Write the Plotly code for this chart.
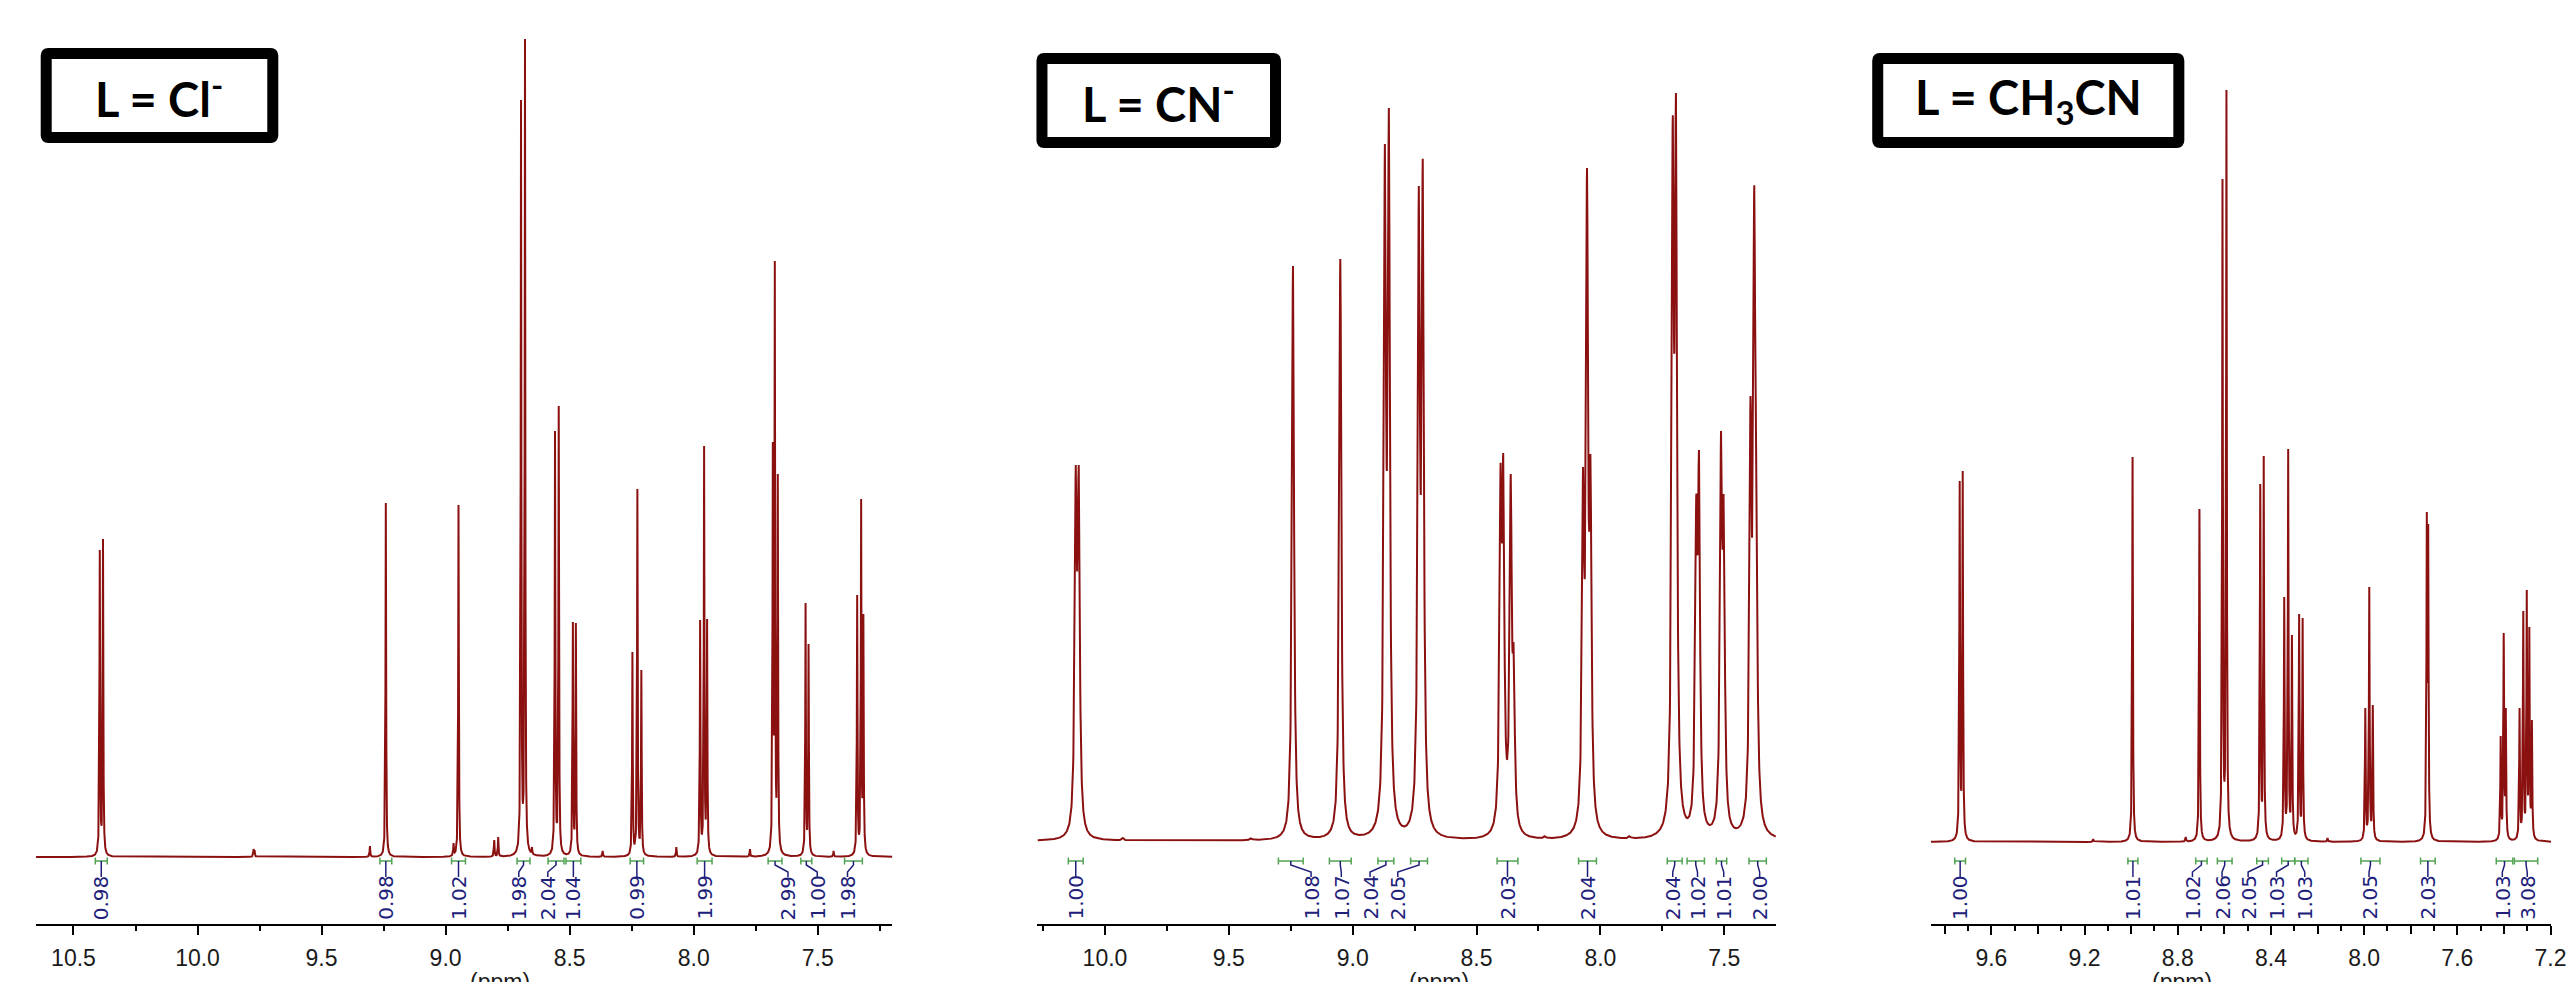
import numpy as np
import plotly.graph_objects as go

W, H = 2567, 982

# ---------------- data ----------------
# Panel 1 : L = Cl-   (peak position ppm, apex height in a.u.)
cl_ppm = [10.394, 10.381, 9.774, 9.770, 9.305, 9.241, 8.968, 8.948, 8.804, 8.788,
          8.696, 8.680, 8.652, 8.559, 8.544, 8.487, 8.475, 8.367, 8.247, 8.227,
          8.211, 8.070, 7.974, 7.958, 7.946, 7.773, 7.681, 7.673, 7.661, 7.549,
          7.537, 7.436, 7.341, 7.325, 7.316]
cl_height = [307, 318, 8, 7, 11, 354, 14, 352, 17, 20,
             757, 818, 10, 426, 451, 235, 234, 6, 205, 368,
             187, 10, 237, 411, 238, 8, 415, 596, 383, 254,
             213, 6, 262, 358, 243]
cl_int_lo = [10.412, 9.265, 8.976, 8.712, 8.587, 8.515, 8.256, 7.986, 7.700, 7.568, 7.392]
cl_int_hi = [10.364, 9.217, 8.920, 8.660, 8.523, 8.455, 8.202, 7.926, 7.644, 7.524, 7.320]
cl_int_label_at = [10.390, 9.243, 8.948, 8.705, 8.588, 8.487, 8.232, 7.958, 7.620, 7.502, 7.380]
cl_int_text = ["0.98", "0.98", "1.02", "1.98", "2.04", "1.04", "0.99", "1.99", "2.99", "1.00", "1.98"]
cl_ticks = [10.5, 10.0, 9.5, 9.0, 8.5, 8.0, 7.5]

# Panel 2 : L = CN-
cn_ppm = [10.118, 10.106, 9.928, 9.410, 9.241, 9.050, 8.870, 8.854, 8.733, 8.717,
          8.403, 8.392, 8.362, 8.350, 8.224, 8.070, 8.054, 8.040, 7.882, 7.708,
          7.695, 7.613, 7.602, 7.513, 7.502, 7.394, 7.379, 7.371]
cn_height = [376, 376, 3, 3, 575, 582, 697, 733, 655, 682,
             377, 387, 367, 196, 5, 374, 673, 385, 5, 725,
             748, 346, 391, 410, 346, 445, 655, 415]
cn_int_lo = [10.148, 9.300, 9.094, 8.898, 8.766, 8.417, 8.088, 7.730, 7.650, 7.532, 7.400]
cn_int_hi = [10.088, 9.200, 9.006, 8.834, 8.698, 8.333, 8.016, 7.670, 7.580, 7.490, 7.330]
cn_int_label_at = [10.121, 9.168, 9.046, 8.930, 8.818, 8.377, 8.052, 7.708, 7.608, 7.502, 7.357]
cn_int_text = ["1.00", "1.08", "1.07", "2.04", "2.05", "2.03", "2.04", "2.04", "1.02", "1.01", "2.00"]
cn_ticks = [10.0, 9.5, 9.0, 8.5, 8.0, 7.5]

# Panel 3 : L = CH3CN
mecn_ppm = [9.736, 9.723, 9.163, 8.994, 8.766, 8.707, 8.608, 8.591, 8.446, 8.431,
            8.343, 8.326, 8.310, 8.279, 8.264, 8.157, 7.995, 7.978, 7.963, 7.731,
            7.725, 7.414, 7.401, 7.392, 7.333, 7.317, 7.302, 7.291, 7.280]
mecn_height = [361, 371, 3, 385, 5, 333, 663, 752, 358, 386,
               245, 393, 207, 228, 224, 4, 134, 255, 137, 330,
               318, 106, 209, 134, 134, 231, 252, 215, 122]
mecn_int_lo = [9.757, 9.014, 8.723, 8.630, 8.461, 8.354, 8.298, 8.014, 7.758, 7.433, 7.355]
mecn_int_hi = [9.711, 8.971, 8.674, 8.567, 8.411, 8.298, 8.241, 7.932, 7.695, 7.362, 7.255]
mecn_int_label_at = [9.737, 8.993, 8.737, 8.610, 8.498, 8.376, 8.255, 7.979, 7.730, 7.407, 7.300]
mecn_int_text = ["1.00", "1.01", "1.02", "2.06", "2.05", "1.03", "1.03", "2.05", "2.03", "1.03", "3.08"]
mecn_ticks = [9.6, 9.2, 8.8, 8.4, 8.0, 7.6, 7.2]

# ---------------- styling / layout ----------------
LINE_COL = "#8b1010"
INT_COL = "#20207a"
BR_COL = "#52a352"
AX_Y = 924          # axis line pixel row
TICK_FONT = dict(family="Liberation Sans, Arial, sans-serif", size=23, color="#1a1a1a")

panels = [
    dict(ppm=cl_ppm, h=cl_height, lo=cl_int_lo, hi=cl_int_hi, lab=cl_int_label_at,
         txt=cl_int_text, ticks=cl_ticks, px=(36, 898), rng=(10.652, 7.199), base=857,
         hwhm=0.0015, step=0.0003, title="<b>L = Cl<sup>-</sup></b>", box=(41, 48, 280, 143),
         ppm_title_at=8.78, mid_ticks=False, minor=0.25),
    dict(ppm=cn_ppm, h=cn_height, lo=cn_int_lo, hi=cn_int_hi, lab=cn_int_label_at,
         txt=cn_int_text, ticks=cn_ticks, px=(1044, 1787), rng=(10.2725, 7.2916), base=841,
         hwhm=0.005, step=0.0008, title="<b>L = CN<sup>-</sup></b>", box=(1043, 53, 1289, 148),
         ppm_title_at=8.65, mid_ticks=False, minor=0.25),
    dict(ppm=mecn_ppm, h=mecn_height, lo=mecn_int_lo, hi=mecn_int_hi,
         lab=mecn_int_label_at, txt=mecn_int_text, ticks=mecn_ticks, px=(1943, 2567),
         rng=(9.8596, 7.198), base=842, hwhm=0.0018, step=0.0003,
         title="<b>L = CH<sub>3</sub>CN</b>", box=(1884, 53, 2198, 148),
         ppm_title_at=8.78, mid_ticks=True, minor=0.1),
]


def py(p):
    return 1 - p / H


def rounded_rect(x0, y0, x1, y1, r):
    """path in paper fractions for a rectangle given in pixels with rounded corners"""
    X = lambda v: v / W
    Y = lambda v: 1 - v / H
    return (f"M {X(x0 + r)},{Y(y0)} L {X(x1 - r)},{Y(y0)} Q {X(x1)},{Y(y0)} {X(x1)},{Y(y0 + r)} "
            f"L {X(x1)},{Y(y1 - r)} Q {X(x1)},{Y(y1)} {X(x1 - r)},{Y(y1)} "
            f"L {X(x0 + r)},{Y(y1)} Q {X(x0)},{Y(y1)} {X(x0)},{Y(y1 - r)} "
            f"L {X(x0)},{Y(y0 + r)} Q {X(x0)},{Y(y0)} {X(x0 + r)},{Y(y0)} Z")


fig = go.Figure()
shapes = []
annotations = []
ydom = [1 - AX_Y / H, 1]

for i, P in enumerate(panels):
    k = "" if i == 0 else str(i + 1)
    xref, yref = "x" + k, "y" + k
    pos = np.array(P["ppm"], float)
    top = np.array(P["h"], float)
    g = P["hwhm"]
    # amplitudes so that the Lorentzian sum reproduces the read apex heights
    A = 1.0 / (1.0 + ((pos[:, None] - pos[None, :]) / g) ** 2)
    amp = np.clip(np.linalg.solve(A, top), 0, None)
    grid = np.arange(P["rng"][1], P["rng"][0], P["step"])
    grid = np.union1d(grid, pos)
    spec = (amp[None, :] / (1.0 + ((grid[:, None] - pos[None, :]) / g) ** 2)).sum(axis=1)
    fig.add_trace(go.Scatter(x=grid, y=spec, mode="lines", xaxis=xref, yaxis=yref,
                             line=dict(color=LINE_COL, width=2), hoverinfo="skip",
                             showlegend=False))

    base = P["base"]
    xa = dict(domain=[P["px"][0] / W, P["px"][1] / W], range=list(P["rng"]), anchor=yref,
              showline=True, linecolor="black", linewidth=2, ticks="outside", ticklen=9,
              tickwidth=2, tickcolor="black", tickvals=P["ticks"],
              ticktext=["%.1f" % t for t in P["ticks"]],
              minor=dict(dtick=P["minor"], tick0=0, ticks="outside", ticklen=5, tickwidth=2,
                         tickcolor="black", showgrid=False),
              showgrid=False, zeroline=False, ticklabelstandoff=3,
              ticklabeloverflow="allow", tickfont=TICK_FONT)
    ya = dict(domain=ydom, range=[-(AX_Y - base), base], visible=False, showgrid=False,
              zeroline=False, fixedrange=True)
    if i > 0:
        ya["anchor"] = xref
    fig.update_layout(**{"xaxis" + k: xa, "yaxis" + k: ya})

    if P["mid_ticks"]:
        # longer unlabelled ticks halfway between the labelled ones
        mids = [(a + b) / 2 for a, b in zip(P["ticks"][:-1], P["ticks"][1:])]
        mids.append(P["ticks"][0] + (P["ticks"][0] - P["ticks"][1]) / 2)
        fig.update_layout(xaxis4=dict(overlaying=xref, anchor=yref, range=list(P["rng"]),
                                      domain=xa["domain"], tickvals=mids, ticks="outside",
                                      ticklen=9, tickwidth=2, tickcolor="black",
                                      showticklabels=False, showline=False, showgrid=False,
                                      zeroline=False))
        fig.add_trace(go.Scatter(x=[mids[0]], y=[0], mode="markers", xaxis="x4", yaxis=yref,
                                 marker=dict(size=1, opacity=0), hoverinfo="skip",
                                 showlegend=False))

    # integration brackets, connectors and values
    yb, yb0, yb1 = py(861), py(857.5), py(864.5)
    for lo, hi, lab, txt in zip(P["lo"], P["hi"], P["lab"], P["txt"]):
        c = (lo + hi) / 2
        shapes.append(dict(type="path", xref=xref, yref="paper",
                           path=f"M {lo},{yb0} L {lo},{yb1} M {lo},{yb} L {hi},{yb} M {hi},{yb0} L {hi},{yb1}",
                           line=dict(color=BR_COL, width=1.5)))
        if abs(c - lab) < 0.004:
            path = f"M {c},{yb} L {c},{py(877)}"
        else:
            path = f"M {c},{yb} L {c},{py(865)} L {lab},{py(872)} L {lab},{py(877)}"
        shapes.append(dict(type="path", xref=xref, yref="paper", path=path,
                           line=dict(color=INT_COL, width=1.5)))
        annotations.append(dict(x=lab, y=py(897.5), xref=xref, yref="paper", text=txt,
                                textangle=-90, showarrow=False, xanchor="center",
                                yanchor="middle",
                                font=dict(family="DejaVu Sans", size=20, color=INT_COL)))

    # (ppm) axis title
    annotations.append(dict(x=P["ppm_title_at"], y=py(967), xref=xref, yref="paper",
                            text="(ppm)", showarrow=False, xanchor="center", yanchor="top",
                            font=TICK_FONT))

    # title box
    x0, y0, x1, y1 = P["box"]
    bw = 11
    shapes.append(dict(type="path", xref="paper", yref="paper",
                       path=rounded_rect(x0 + bw / 2, y0 + bw / 2, x1 - bw / 2, y1 - bw / 2, 2),
                       line=dict(color="black", width=bw), fillcolor="white"))
    annotations.append(dict(x=(x0 + x1) / 2 / W, y=py((y0 + y1) / 2), xref="paper",
                            yref="paper", text=P["title"], showarrow=False,
                            xanchor="center", yanchor="middle",
                            font=dict(family="Lato, Open Sans, sans-serif", size=47,
                                      color="black")))

fig.update_layout(width=W, height=H, autosize=False,
                  margin=dict(l=0, r=0, t=0, b=0, pad=0),
                  paper_bgcolor="white", plot_bgcolor="white",
                  shapes=shapes, annotations=annotations, showlegend=False)

fig.write_html("out.html", include_plotlyjs=True, config={"displayModeBar": False})
